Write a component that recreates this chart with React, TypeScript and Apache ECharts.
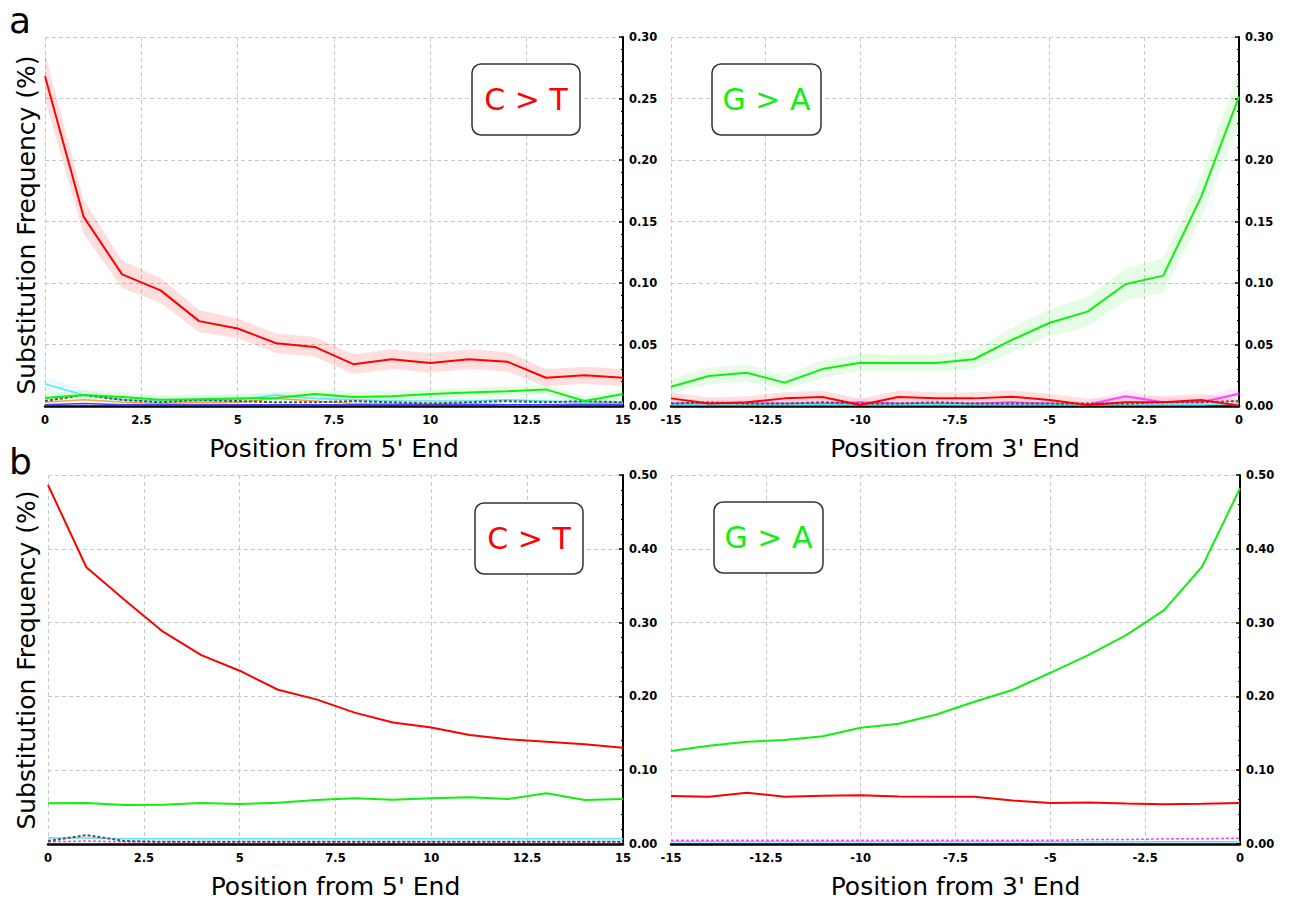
import React, { useEffect, useRef } from "react";
import * as echarts from "echarts";

// ---------- data ----------
const pos5 = [0, 1, 2, 3, 4, 5, 6, 7, 8, 9, 10, 11, 12, 13, 14, 15];
const pos3 = [-15, -14, -13, -12, -11, -10, -9, -8, -7, -6, -5, -4, -3, -2, -1, 0];

// panel a, 5' end
const a5CtoT = [0.268, 0.154, 0.107, 0.094, 0.069, 0.063, 0.051, 0.048, 0.034, 0.038, 0.035, 0.038, 0.036, 0.023, 0.025, 0.023];
const a5CtoTci = [0.019, 0.014, 0.011, 0.01, 0.009, 0.008, 0.008, 0.008, 0.008, 0.008, 0.008, 0.008, 0.008, 0.007, 0.007, 0.007];
const a5GtoA = [0.0065, 0.009, 0.0073, 0.005, 0.0055, 0.006, 0.0065, 0.0097, 0.0073, 0.008, 0.0097, 0.011, 0.012, 0.0135, 0.004, 0.0097];
const a5GtoAci = [0.004, 0.004, 0.004, 0.004, 0.004, 0.004, 0.004, 0.004, 0.004, 0.004, 0.004, 0.004, 0.004, 0.004, 0.004, 0.004];
const a5TtoC = [0.018, 0.009, 0.005, 0.004, 0.004, 0.005, 0.009, 0.006, 0.005, 0.004, 0.004, 0.004, 0.005, 0.004, 0.003, 0.003];
const a5TtoCci = [0.006, 0.004, 0.003, 0.003, 0.003, 0.003, 0.003, 0.003, 0.003, 0.003, 0.003, 0.003, 0.003, 0.003, 0.003, 0.003];
const a5Other = [0.004, 0.009, 0.005, 0.003, 0.005, 0.004, 0.003, 0.003, 0.004, 0.003, 0.002, 0.003, 0.004, 0.003, 0.004, 0.003];
const a5AtoG = [0.003, 0.005, 0.003, 0.002, 0.003, 0.003, 0.006, 0.004, 0.002, 0.002, 0.002, 0.002, 0.001, 0.001, 0.002, 0.002];
const a5Small = [0.001, 0.002, 0.001, 0.001, 0.001, 0.001, 0.001, 0.001, 0.001, 0.001, 0.001, 0.001, 0.001, 0.001, 0.001, 0.001];

// panel a, 3' end
const a3GtoA = [0.0157, 0.0244, 0.027, 0.019, 0.03, 0.0352, 0.035, 0.035, 0.038, 0.0537, 0.0677, 0.0767, 0.099, 0.106, 0.17, 0.2515];
const a3GtoAci = [0.006, 0.007, 0.007, 0.006, 0.007, 0.007, 0.007, 0.007, 0.008, 0.01, 0.011, 0.012, 0.013, 0.014, 0.017, 0.021];
const a3CtoT = [0.0062, 0.002, 0.003, 0.0062, 0.0073, 0.0008, 0.0073, 0.0062, 0.0062, 0.0076, 0.0049, 0.0008, 0.003, 0.003, 0.0049, 0.0003];
const a3CtoTci = [0.005, 0.005, 0.005, 0.005, 0.005, 0.005, 0.005, 0.005, 0.005, 0.005, 0.005, 0.005, 0.005, 0.005, 0.005, 0.005];
const a3Magenta = [0.002, 0.002, 0.002, 0.002, 0.002, 0.003, 0.002, 0.002, 0.002, 0.003, 0.002, 0.001, 0.008, 0.003, 0.003, 0.01];
const a3MagentaCi = [0.003, 0.003, 0.003, 0.003, 0.003, 0.003, 0.003, 0.003, 0.003, 0.003, 0.003, 0.003, 0.005, 0.004, 0.004, 0.006];
const a3Other = [0.002, 0.003, 0.002, 0.002, 0.003, 0.002, 0.002, 0.003, 0.002, 0.002, 0.002, 0.002, 0.002, 0.003, 0.003, 0.004];
const a3Small = [0.001, 0.001, 0.001, 0.001, 0.001, 0.001, 0.001, 0.001, 0.001, 0.001, 0.001, 0.001, 0.001, 0.001, 0.001, 0.002];

// panel b, 5' end
const b5CtoT = [0.4865, 0.375, 0.3306, 0.2877, 0.256, 0.2348, 0.209, 0.196, 0.178, 0.1646, 0.158, 0.1477, 0.1418, 0.1386, 0.135, 0.1304];
const b5GtoA = [0.0551, 0.0556, 0.0528, 0.0533, 0.0556, 0.0542, 0.056, 0.0596, 0.0619, 0.06, 0.0619, 0.0632, 0.061, 0.0687, 0.0596, 0.061];
const b5Cyan = [0.008, 0.008, 0.007, 0.007, 0.007, 0.007, 0.007, 0.007, 0.007, 0.007, 0.007, 0.007, 0.007, 0.007, 0.007, 0.007];
const b5Other = [0.004, 0.012, 0.004, 0.003, 0.003, 0.003, 0.003, 0.003, 0.003, 0.003, 0.003, 0.003, 0.003, 0.003, 0.003, 0.003];
const b5Magenta = [0.003, 0.004, 0.003, 0.003, 0.003, 0.003, 0.003, 0.003, 0.003, 0.003, 0.003, 0.003, 0.003, 0.003, 0.003, 0.003];

// panel b, 3' end
const b3GtoA = [0.126, 0.133, 0.1386, 0.141, 0.146, 0.1576, 0.163, 0.1755, 0.1928, 0.2087, 0.232, 0.256, 0.283, 0.317, 0.3757, 0.482];
const b3CtoT = [0.065, 0.064, 0.0695, 0.064, 0.0655, 0.066, 0.0645, 0.064, 0.064, 0.059, 0.0556, 0.0562, 0.055, 0.054, 0.0545, 0.0556];
const b3Magenta = [0.005, 0.005, 0.005, 0.005, 0.005, 0.005, 0.005, 0.005, 0.005, 0.005, 0.005, 0.006, 0.006, 0.007, 0.007, 0.008];
const b3Cyan = [0.003, 0.003, 0.003, 0.003, 0.003, 0.003, 0.003, 0.003, 0.003, 0.003, 0.003, 0.003, 0.003, 0.003, 0.003, 0.003];

const yTicksA = [0, 0.3, 0.05];
const yTicksB = [0, 0.5, 0.1];

const RED = "#ff0000";
const GREEN = "#11ee11";
const FONT = '"DejaVu Sans", "Noto Sans", sans-serif';

function line(name: string, idx: number, xs: number[], ys: number[], color: string, extra: any = {}) {
  return {
    type: "line",
    name,
    xAxisIndex: idx,
    yAxisIndex: idx,
    data: xs.map((x, i) => [x, ys[i]]),
    symbol: "none",
    showSymbol: false,
    silent: true,
    lineStyle: { color, width: 2, ...(extra.lineStyle || {}) },
    itemStyle: { color },
    z: extra.z ?? 3,
  };
}

// confidence band drawn as one polygon through the axis scales
function band(id: string, idx: number, xs: number[], ys: number[], ci: number[], color: string) {
  const rows = xs.map((x, i) => [x, Math.max(0, ys[i] - ci[i]), ys[i] + ci[i]]);
  return {
    type: "custom",
    name: id,
    xAxisIndex: idx,
    yAxisIndex: idx,
    silent: true,
    clip: true,
    z: 1,
    encode: { x: 0, y: [1, 2] },
    data: rows,
    renderItem: (params: any, api: any) => {
      if (params.dataIndex !== 0) return null;
      const upper = rows.map((r) => api.coord([r[0], r[2]]));
      const lower = rows.map((r) => api.coord([r[0], r[1]])).reverse();
      return {
        type: "polygon",
        shape: { points: upper.concat(lower) },
        style: { fill: color },
      };
    },
  };
}

function xAxisDef(idx: number, min: number, max: number, name: string) {
  return {
    type: "value",
    gridIndex: idx,
    min,
    max,
    interval: 2.5,
    name,
    nameLocation: "middle",
    nameGap: 30,
    nameTextStyle: { fontFamily: FONT, fontSize: 25, color: "#000" },
    axisLine: { show: true, onZero: false, lineStyle: { color: "#000", width: 2.5 } },
    axisTick: { show: false },
    axisLabel: { fontFamily: FONT, fontSize: 11.5, fontWeight: "bold", color: "#000", margin: 8 },
    splitLine: { show: true, lineStyle: { color: "#c8c8c8", type: [4, 3], width: 1 } },
  };
}

function yAxisDef(idx: number, t: number[]) {
  return {
    type: "value",
    gridIndex: idx,
    position: "right",
    min: t[0],
    max: t[1],
    interval: t[2],
    axisLine: { show: true, onZero: false, lineStyle: { color: "#000", width: 2 } },
    axisTick: { show: true, inside: true, length: 4, lineStyle: { color: "#000", width: 1.5 } },
    minorTick: { show: true, splitNumber: 5, length: 2, lineStyle: { color: "#000", width: 1 } },
    axisLabel: {
      fontFamily: FONT,
      fontSize: 11.5,
      fontWeight: "bold",
      color: "#000",
      margin: 6,
      formatter: (v: number) => v.toFixed(2),
    },
    splitLine: { show: true, lineStyle: { color: "#c8c8c8", type: [4, 3], width: 1 } },
  };
}

function labelBox(x: number, y: number, w: number, h: number, text: string, color: string) {
  return [
    {
      type: "rect",
      shape: { x, y, width: w, height: h, r: 9 },
      style: { fill: "#fff", stroke: "#333", lineWidth: 1.5 },
      z: 100,
    },
    {
      type: "text",
      x: x + w / 2,
      y: y + h / 2,
      style: {
        text,
        fill: color,
        font: `30px ${FONT}`,
        align: "center",
        verticalAlign: "middle",
        textAlign: "center",
        textVerticalAlign: "middle",
      },
      z: 101,
    },
  ];
}

function plainText(x: number, y: number, text: string, size: number, rotation = 0) {
  return {
    type: "text",
    x,
    y,
    rotation,
    style: {
      text,
      fill: "#000",
      font: `${size}px ${FONT}`,
      align: rotation ? "center" : "left",
      verticalAlign: "middle",
      textAlign: rotation ? "center" : "left",
      textVerticalAlign: "middle",
    },
    z: 100,
  };
}

export default function App() {
  const ref = useRef<HTMLDivElement>(null);

  useEffect(() => {
    document.body.style.margin = "0";
    if (!ref.current) return;
    const chart = echarts.init(ref.current, null, { renderer: "svg" });

    const option: any = {
      animation: false,
      backgroundColor: "#fff",
      grid: [
        { left: 45, top: 37, width: 578, height: 369 },
        { left: 671, top: 37, width: 568, height: 369 },
        { left: 48, top: 475, width: 575, height: 369 },
        { left: 671, top: 475, width: 569, height: 369 },
      ],
      xAxis: [
        xAxisDef(0, 0, 15, "Position from 5' End"),
        xAxisDef(1, -15, 0, "Position from 3' End"),
        xAxisDef(2, 0, 15, "Position from 5' End"),
        xAxisDef(3, -15, 0, "Position from 3' End"),
      ],
      yAxis: [yAxisDef(0, yTicksA), yAxisDef(1, yTicksA), yAxisDef(2, yTicksB), yAxisDef(3, yTicksB)],
      series: [
        // panel a, 5'
        band("a5red", 0, pos5, a5CtoT, a5CtoTci, "rgba(255,0,0,0.13)"),
        band("a5green", 0, pos5, a5GtoA, a5GtoAci, "rgba(0,230,0,0.10)"),
        band("a5cyan", 0, pos5, a5TtoC, a5TtoCci, "rgba(60,220,240,0.10)"),
        line("T>C", 0, pos5, a5TtoC, "#55e5f5", { lineStyle: { width: 1.5 } }),
        line("A>G", 0, pos5, a5AtoG, "#ffa040", { lineStyle: { width: 1.5 } }),
        line("other", 0, pos5, a5Small, "#4040ff", { lineStyle: { width: 1.5 } }),
        line("other2", 0, pos5, a5Other, "#555555", { lineStyle: { width: 2, type: [3, 2] } }),
        line("G>A", 0, pos5, a5GtoA, GREEN, { z: 4 }),
        line("C>T", 0, pos5, a5CtoT, RED, { z: 5 }),
        // panel a, 3'
        band("a3green", 1, pos3, a3GtoA, a3GtoAci, "rgba(0,230,0,0.10)"),
        band("a3red", 1, pos3, a3CtoT, a3CtoTci, "rgba(255,0,0,0.12)"),
        band("a3magenta", 1, pos3, a3Magenta, a3MagentaCi, "rgba(255,60,255,0.10)"),
        line("magenta", 1, pos3, a3Magenta, "#ff44ff", { lineStyle: { width: 2 } }),
        line("other", 1, pos3, a3Small, "#55e5f5", { lineStyle: { width: 1.5 } }),
        line("other2", 1, pos3, a3Other, "#555555", { lineStyle: { width: 2, type: [3, 2] } }),
        line("C>T", 1, pos3, a3CtoT, RED, { z: 4 }),
        line("G>A", 1, pos3, a3GtoA, GREEN, { z: 5 }),
        // panel b, 5'
        line("cyan", 2, pos5, b5Cyan, "#55e5f5", { lineStyle: { width: 1.5 } }),
        line("magenta", 2, pos5, b5Magenta, "#ff44ff", { lineStyle: { width: 1.5, type: [3, 2] } }),
        line("other2", 2, pos5, b5Other, "#555555", { lineStyle: { width: 2, type: [3, 2] } }),
        line("G>A", 2, pos5, b5GtoA, GREEN, { z: 4 }),
        line("C>T", 2, pos5, b5CtoT, RED, { z: 5 }),
        // panel b, 3'
        line("cyan", 3, pos3, b3Cyan, "#55e5f5", { lineStyle: { width: 1.5 } }),
        line("magenta", 3, pos3, b3Magenta, "#ff44ff", { lineStyle: { width: 1.5, type: [3, 2] } }),
        line("C>T", 3, pos3, b3CtoT, RED, { z: 4 }),
        line("G>A", 3, pos3, b3GtoA, GREEN, { z: 5 }),
      ],
      graphic: [
        plainText(9, 20, "a", 36),
        plainText(9, 461, "b", 36),
        plainText(26, 225, "Substitution Frequency (%)", 25, Math.PI / 2),
        plainText(26, 660, "Substitution Frequency (%)", 25, Math.PI / 2),
        ...labelBox(472, 64, 108, 71, "C > T", RED),
        ...labelBox(712, 64, 109, 71, "G > A", GREEN),
        ...labelBox(475, 503, 108, 71, "C > T", RED),
        ...labelBox(714, 502, 109, 71, "G > A", GREEN),
      ],
    };

    chart.setOption(option);
    return () => chart.dispose();
  }, []);

  return <div ref={ref} style={{ width: 1290, height: 905 }} />;
}
